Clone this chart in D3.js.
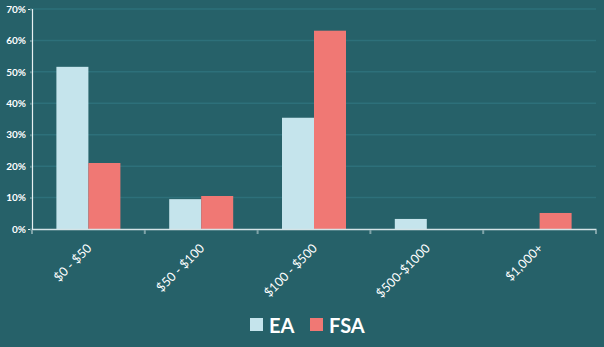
<!DOCTYPE html>
<html><head><meta charset="utf-8">
<script src="https://cdn.jsdelivr.net/npm/d3@7"></script>
<style>html,body{margin:0;padding:0;background:#266169;}svg{display:block;}</style>
</head><body>
<svg id="chart" width="604" height="347"></svg>
<script>
const categories = ["$0 - $50", "$50 - $100", "$100 - $500", "$500-$1000", "$1,000+"];
const seriesNames = ["EA", "FSA"];
const eaValues = [51.6, 9.5, 35.4, 3.2, 0];
const fsaValues = [21.0, 10.5, 63.1, 0, 5.1];
const yTicks = [0, 10, 20, 30, 40, 50, 60, 70];
const colors = {EA: "#c5e4ec", FSA: "#f07874"};

const svg = d3.select("#chart");
const W = 604, H = 347;
svg.append("rect").attr("width", W).attr("height", H).attr("fill", "#266169");

const x0 = 32, x1 = 596, yTop = 9, yBot = 229;
const x = d3.scaleBand().domain(categories).range([x0, x1]).paddingInner(0).paddingOuter(0);
const xs = d3.scaleBand().domain(seriesNames).range([0, x.bandwidth()]).paddingInner(0).paddingOuter((x.bandwidth() - 64) / 64);
const y = d3.scaleLinear().domain([0, 70]).range([yBot, yTop]);

// gridlines
svg.append("g").selectAll("line").data(yTicks.filter(d => d > 0)).join("line")
  .attr("x1", x0).attr("x2", x1).attr("y1", d => y(d)).attr("y2", d => y(d))
  .attr("stroke", "#2d707a").attr("stroke-width", 1.5);

// bars
const data = categories.map((c, i) => ({c, vals: [{s: "EA", v: eaValues[i]}, {s: "FSA", v: fsaValues[i]}]}));
const g = svg.append("g");
g.selectAll("g").data(data).join("g")
  .attr("transform", d => `translate(${x(d.c)},0)`)
  .selectAll("rect").data(d => d.vals.filter(v => v.v > 0)).join("rect")
  .attr("x", d => xs(d.s)).attr("width", xs.bandwidth())
  .attr("y", d => y(d.v)).attr("height", d => yBot - y(d.v))
  .attr("fill", d => colors[d.s]);

// y axis
const yAxis = d3.axisLeft(y).tickValues(yTicks).tickFormat(d => d + "%").tickSize(4).tickPadding(2);
const ya = svg.append("g").attr("transform", `translate(${x0},0)`).call(yAxis);
ya.select(".domain").attr("stroke", "#e8f0f2").attr("stroke-width", 1.2);
ya.selectAll(".tick line").attr("stroke", "#5f8f96").attr("stroke-width", 2).attr("x2", -2);
ya.selectAll(".tick text").attr("fill", "#ffffff").style("font-family", "Lato, 'Open Sans', sans-serif")
  .style("font-size", "10px").style("font-weight", "bold");

// x axis
const xAxis = d3.axisBottom(x).tickValues([]).tickSize(0);
const xa = svg.append("g").attr("transform", `translate(0,${yBot})`).call(xAxis);
xa.select(".domain").attr("stroke", "#d4e3e6").attr("stroke-width", 1.5);
const tickPos = categories.map(c => x(c)).concat([x1]);
xa.selectAll("line.t").data(tickPos).join("line").attr("class", "t")
  .attr("x1", d => d).attr("x2", d => d).attr("y1", 1).attr("y2", 5)
  .attr("stroke", "#7fa3a8").attr("stroke-width", 2);
xa.selectAll("text.lbl").data(categories).join("text").attr("class", "lbl")
  .attr("transform", d => `translate(${x(d) + x.bandwidth() / 2 + 4},${20}) rotate(-45)`)
  .attr("text-anchor", "end").attr("fill", "#ffffff")
  .style("font-family", "Lato, 'Open Sans', sans-serif").style("font-size", "12.5px")
  .text(d => d);

// legend
const legend = svg.append("g");
const legendItems = [{s: "EA", x: 250, tx: 269}, {s: "FSA", x: 310, tx: 329}];
legend.selectAll("rect").data(legendItems).join("rect")
  .attr("x", d => d.x).attr("y", 318).attr("width", 13).attr("height", 13)
  .attr("fill", d => colors[d.s]);
legend.selectAll("text").data(legendItems).join("text")
  .attr("x", d => d.tx).attr("y", 333).attr("fill", "#ffffff")
  .style("font-family", "Lato, 'Open Sans', sans-serif").style("font-size", "20px").style("font-weight", "bold")
  .text(d => d.s);
</script>
</body></html>
